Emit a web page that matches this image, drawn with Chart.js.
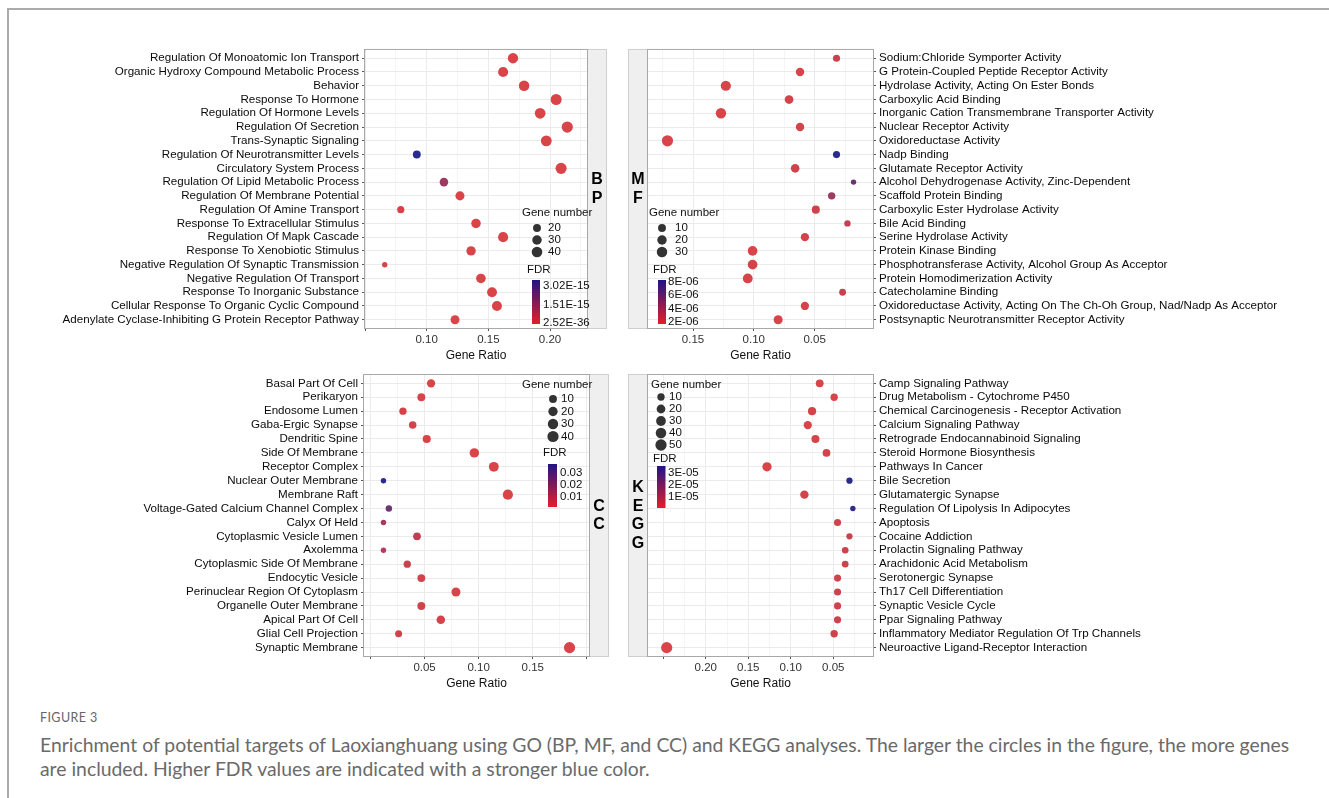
<!DOCTYPE html>
<html>
<head>
<meta charset="utf-8">
<script src="https://cdn.jsdelivr.net/npm/chart.js@4.4.1/dist/chart.umd.min.js"></script>
<style>
  html, body { margin: 0; padding: 0; background: #fff; }
  body { width: 1329px; height: 798px; position: relative; overflow: hidden; }
  .frame { position: absolute; left: 7px; top: 8px; width: 1400px; height: 900px;
           border-top: 2px solid #ababab; border-left: 2px solid #ababab; }
  canvas { position: absolute; }
  .fig { position: absolute; left: 40px; top: 710px; font: 12.5px Lato, sans-serif; color: #666; letter-spacing: 0.4px; }
  .cap { position: absolute; left: 40px; top: 733px; font-family: Lato, sans-serif; font-size: 17px;
         line-height: 24px; color: #6a6a6a; white-space: nowrap; }
</style>
</head>
<body>
<div class="frame"></div>
<canvas id="bp" width="620" height="325" style="left:0;top:40px"></canvas>
<canvas id="mf" width="709" height="325" style="left:620px;top:40px"></canvas>
<canvas id="cc" width="620" height="335" style="left:0;top:365px"></canvas>
<canvas id="kegg" width="709" height="335" style="left:620px;top:365px"></canvas>
<div class="fig">FIGURE 3</div>
<div class="cap" id="cap"><span id="capLine">Enrichment of potential targets of Laoxianghuang using GO (BP, MF, and CC) and KEGG analyses. The larger the circles in the figure, the more genes</span><br>are included. Higher FDR values are indicated with a stronger blue color.</div>
<script>
// ---- BP ----
const bpTerms = ['Regulation Of Monoatomic Ion Transport', 'Organic Hydroxy Compound Metabolic Process', 'Behavior',
  'Response To Hormone', 'Regulation Of Hormone Levels', 'Regulation Of Secretion', 'Trans-Synaptic Signaling',
  'Regulation Of Neurotransmitter Levels', 'Circulatory System Process', 'Regulation Of Lipid Metabolic Process',
  'Regulation Of Membrane Potential', 'Regulation Of Amine Transport', 'Response To Extracellular Stimulus',
  'Regulation Of Mapk Cascade', 'Response To Xenobiotic Stimulus', 'Negative Regulation Of Synaptic Transmission',
  'Negative Regulation Of Transport', 'Response To Inorganic Substance', 'Cellular Response To Organic Cyclic Compound',
  'Adenylate Cyclase-Inhibiting G Protein Receptor Pathway'];
const bpRatio = [0.170, 0.162, 0.179, 0.205, 0.192, 0.214, 0.197, 0.092, 0.209, 0.114,
  0.127, 0.079, 0.140, 0.162, 0.136, 0.066, 0.144, 0.153, 0.157, 0.123];
const bpCount = [37, 35, 39, 44, 41, 46, 42, 20, 45, 24, 27, 17, 30, 35, 29, 14, 31, 33, 34, 26];
const bpFdr = [4.1e-30, 2.2e-26, 8.5e-29, 3.0e-33, 1.7e-31, 2.52e-36, 6.4e-33, 3.42e-15, 1.1e-34, 1.2e-15,
  5.3e-21, 9.8e-17, 3.6e-22, 7.7e-25, 2.9e-22, 4.4e-18, 1.5e-23, 6.0e-26, 2.3e-24, 3.1e-19];
const bpTicks = [0.05, 0.10, 0.15, 0.20];
const bpTickLabels = ['', '0.10', '0.15', '0.20'];
const bpSizeBreaks = [20, 30, 40];
const bpFdrBreaks = [3.02e-15, 1.51e-15, 2.52e-36];
const bpFdrLabels = ['3.02E-15', '1.51E-15', '2.52E-36'];

// ---- MF ----
const mfTerms = ['Sodium:Chloride Symporter Activity', 'G Protein-Coupled Peptide Receptor Activity',
  'Hydrolase Activity, Acting On Ester Bonds', 'Carboxylic Acid Binding',
  'Inorganic Cation Transmembrane Transporter Activity', 'Nuclear Receptor Activity', 'Oxidoreductase Activity',
  'Nadp Binding', 'Glutamate Receptor Activity', 'Alcohol Dehydrogenase Activity, Zinc-Dependent',
  'Scaffold Protein Binding', 'Carboxylic Ester Hydrolase Activity', 'Bile Acid Binding', 'Serine Hydrolase Activity',
  'Protein Kinase Binding', 'Phosphotransferase Activity, Alcohol Group As Acceptor',
  'Protein Homodimerization Activity', 'Catecholamine Binding',
  'Oxidoreductase Activity, Acting On The Ch-Oh Group, Nad/Nadp As Acceptor',
  'Postsynaptic Neurotransmitter Receptor Activity'];
const mfRatio = [0.032, 0.062, 0.123, 0.071, 0.127, 0.062, 0.171, 0.032, 0.066, 0.018,
  0.036, 0.049, 0.023, 0.058, 0.101, 0.101, 0.105, 0.027, 0.058, 0.080];
const mfCount = [7, 13, 27, 15, 28, 13, 37, 7, 14, 4, 8, 11, 5, 12, 22, 22, 23, 6, 12, 17];
const mfFdr = [2.4e-6, 1.9e-6, 1.85e-6, 2.0e-6, 1.9e-6, 2.1e-6, 1.9e-6, 8.1e-6, 2.2e-6, 5.9e-6,
  4.0e-6, 2.3e-6, 2.6e-6, 2.0e-6, 1.9e-6, 2.0e-6, 1.95e-6, 2.5e-6, 2.1e-6, 1.9e-6];
const mfTicks = [0.05, 0.10, 0.15];
const mfTickLabels = ['0.05', '0.10', '0.15'];
const mfSizeBreaks = [10, 20, 30];
const mfFdrBreaks = [8e-6, 6e-6, 4e-6, 2e-6];
const mfFdrLabels = ['8E-06', '6E-06', '4E-06', '2E-06'];

// ---- CC ----
const ccTerms = ['Basal Part Of Cell', 'Perikaryon', 'Endosome Lumen', 'Gaba-Ergic Synapse', 'Dendritic Spine',
  'Side Of Membrane', 'Receptor Complex', 'Nuclear Outer Membrane', 'Membrane Raft',
  'Voltage-Gated Calcium Channel Complex', 'Calyx Of Held', 'Cytoplasmic Vesicle Lumen', 'Axolemma',
  'Cytoplasmic Side Of Membrane', 'Endocytic Vesicle', 'Perinuclear Region Of Cytoplasm',
  'Organelle Outer Membrane', 'Apical Part Of Cell', 'Glial Cell Projection', 'Synaptic Membrane'];
const ccRatio = [0.056, 0.047, 0.030, 0.039, 0.052, 0.096, 0.114, 0.012, 0.127, 0.017,
  0.012, 0.043, 0.012, 0.034, 0.047, 0.079, 0.047, 0.065, 0.026, 0.184];
const ccCount = [12, 10, 7, 8, 11, 21, 25, 3, 28, 4, 3, 9, 3, 7, 10, 17, 10, 14, 6, 40];
const ccFdr = [0.0035, 0.0036, 0.0040, 0.0042, 0.0038, 0.0034, 0.0033, 0.0355, 0.0033, 0.0230,
  0.0135, 0.0085, 0.0105, 0.0060, 0.0045, 0.0036, 0.0047, 0.0040, 0.0050, 0.0033];
const ccTicks = [0.00, 0.05, 0.10, 0.15, 0.20];
const ccTickLabels = ['', '0.05', '0.10', '0.15', ''];
const ccSizeBreaks = [10, 20, 30, 40];
const ccFdrBreaks = [0.03, 0.02, 0.01];
const ccFdrLabels = ['0.03', '0.02', '0.01'];

// ---- KEGG ----
const keggTerms = ['Camp Signaling Pathway', 'Drug Metabolism - Cytochrome P450',
  'Chemical Carcinogenesis - Receptor Activation', 'Calcium Signaling Pathway',
  'Retrograde Endocannabinoid Signaling', 'Steroid Hormone Biosynthesis', 'Pathways In Cancer', 'Bile Secretion',
  'Glutamatergic Synapse', 'Regulation Of Lipolysis In Adipocytes', 'Apoptosis', 'Cocaine Addiction',
  'Prolactin Signaling Pathway', 'Arachidonic Acid Metabolism', 'Serotonergic Synapse', 'Th17 Cell Differentiation',
  'Synaptic Vesicle Cycle', 'Ppar Signaling Pathway', 'Inflammatory Mediator Regulation Of Trp Channels',
  'Neuroactive Ligand-Receptor Interaction'];
const keggRatio = [0.066, 0.049, 0.075, 0.080, 0.071, 0.058, 0.128, 0.031, 0.084, 0.027,
  0.045, 0.031, 0.036, 0.036, 0.045, 0.045, 0.045, 0.045, 0.049, 0.246];
const keggCount = [13, 10, 15, 16, 14, 12, 25, 6, 17, 5, 9, 6, 7, 7, 9, 9, 9, 9, 10, 49];
const keggFdr = [2.6e-6, 2.4e-6, 3.1e-6, 2.3e-6, 2.8e-6, 3.5e-6, 2.2e-6, 3.43e-5, 2.9e-6, 3.35e-5,
  4.0e-6, 5.1e-6, 4.6e-6, 4.2e-6, 3.8e-6, 4.4e-6, 4.1e-6, 4.3e-6, 3.6e-6, 2.2e-6];
const keggTicks = [0.05, 0.10, 0.15, 0.20, 0.25];
const keggTickLabels = ['0.05', '0.10', '0.15', '0.20', ''];
const keggSizeBreaks = [10, 20, 30, 40, 50];
const keggFdrBreaks = [3e-5, 2e-5, 1e-5];
const keggFdrLabels = ['3E-05', '2E-05', '1E-05'];

const FONT = "'Liberation Sans', Arial, sans-serif";
Chart.defaults.font.family = FONT;

const rMin = 2.7, rMax = 5.6;
const dotLow = [217, 68, 72], dotHigh = [43, 43, 143];
const barLow = [228, 30, 42], barHigh = [32, 20, 132];

function mix(a, b, t) {
    t = Math.max(0, Math.min(1, t));
    return 'rgb(' + a.map((v, i) => Math.round(v + (b[i] - v) * t)).join(',') + ')';
}

function sizeOf(c, counts) {
    const lo = Math.min(...counts), hi = Math.max(...counts);
    return rMin + (rMax - rMin) * Math.sqrt(Math.max(0, (c - lo) / (hi - lo)));
}

function fdrT(v, fdr) {
    const lo = Math.min(...fdr), hi = Math.max(...fdr);
    return (v - lo) / (hi - lo);
}

function near(list, v) {
    return list.findIndex(t => Math.abs(t - v) < 1e-9);
}

function makeDecor(cfg) {
    return {
        id: 'decor',
        afterDraw(chart) {
            const ctx = chart.ctx, a = chart.chartArea;
            const ox = cfg.ox, oy = cfg.oy;
            ctx.save();
            // strip
            const sw = 20;
            const sx = cfg.side === 'left' ? a.right : a.left - sw;
            ctx.fillStyle = '#efefef';
            ctx.fillRect(sx, a.top, sw, a.bottom - a.top);
            ctx.strokeStyle = '#cfcfcf';
            ctx.lineWidth = 1;
            ctx.strokeRect(sx + 0.5, a.top - 0.5, sw - 1, a.bottom - a.top + 1);
            ctx.fillStyle = '#000';
            ctx.font = 'bold 16px ' + FONT;
            ctx.textAlign = 'center';
            ctx.textBaseline = 'middle';
            const letters = cfg.strip.split('');
            const mid = (a.top + a.bottom) / 2;
            letters.forEach((ch, i) => {
                ctx.fillText(ch, sx + sw / 2, mid + (i - (letters.length - 1) / 2) * 18.5);
            });
            // panel border
            ctx.strokeStyle = '#a8a8a8';
            ctx.strokeRect(a.left - 0.5, a.top - 0.5, a.right - a.left + 1, a.bottom - a.top + 1);

            // gene number legend
            const g = cfg.gene;
            ctx.font = '11.5px ' + FONT;
            ctx.textAlign = 'left';
            ctx.fillStyle = '#111';
            ctx.fillText('Gene number', g.tx - ox, g.ty - oy);
            g.vals.forEach((v, i) => {
                ctx.beginPath();
                ctx.fillStyle = '#333';
                ctx.arc(g.dx - ox, g.ys[i] - oy, sizeOf(v, cfg.count), 0, Math.PI * 2);
                ctx.fill();
                ctx.fillStyle = '#111';
                ctx.fillText(String(v), g.lx - ox, g.ys[i] - oy);
            });

            // FDR colour bar
            const f = cfg.fdrLeg;
            ctx.fillText('FDR', f.tx - ox, f.ty - oy);
            const bx = f.bx - ox, by = f.by - oy;
            const grad = ctx.createLinearGradient(0, by + f.bh, 0, by);
            for (let k = 0; k <= 10; k++) grad.addColorStop(k / 10, mix(barLow, barHigh, k / 10));
            ctx.fillStyle = grad;
            ctx.fillRect(bx, by, f.bw, f.bh);
            ctx.fillStyle = '#111';
            cfg.fdrBreaks.forEach((v, i) => {
                const t = Math.max(0, Math.min(1, fdrT(v, cfg.fdr)));
                ctx.fillText(cfg.fdrLabels[i], f.lx - ox, by + f.bh - 1.5 - (f.bh - 3) * t);
            });
            ctx.restore();
        }
    };
}

function panel(id, cfg) {
    const n = cfg.terms.length;
    const minor = [];
    for (let k = 0; k < cfg.ticks.length; k++) {
        minor.push(cfg.ticks[k] - 0.025);
    }
    minor.push(cfg.ticks[cfg.ticks.length - 1] + 0.025);
    const allTicks = cfg.ticks.concat(minor)
        .filter(v => v >= cfg.xMin - 1e-9 && v <= cfg.xMax + 1e-9)
        .sort((p, q) => p - q);

    new Chart(document.getElementById(id), {
        type: 'scatter',
        data: {
            datasets: [{
                data: cfg.ratio.map((x, i) => ({x: x, y: i})),
                pointRadius: c => sizeOf(cfg.count[c.dataIndex], cfg.count),
                pointHoverRadius: c => sizeOf(cfg.count[c.dataIndex], cfg.count),
                pointBackgroundColor: c => mix(dotLow, dotHigh, fdrT(cfg.fdr[c.dataIndex], cfg.fdr)),
                pointBorderWidth: 0,
                clip: false
            }]
        },
        options: {
            responsive: false,
            animation: false,
            devicePixelRatio: 1,
            layout: {padding: cfg.pad},
            plugins: {legend: {display: false}, tooltip: {enabled: false}},
            scales: {
                x: {
                    type: 'linear',
                    min: cfg.xMin,
                    max: cfg.xMax,
                    reverse: cfg.reverse,
                    afterBuildTicks: s => { s.ticks = allTicks.map(v => ({value: v})); },
                    afterFit: s => { s.height = cfg.xH; },
                    ticks: {
                        autoSkip: false,
                        maxRotation: 0,
                        padding: 2,
                        color: '#333',
                        font: {size: 11.5},
                        callback: v => {
                            const i = near(cfg.ticks, v);
                            return i < 0 ? '' : cfg.tickLabels[i];
                        }
                    },
                    grid: {
                        color: c => near(cfg.ticks, c.tick.value) < 0 ? '#f5f5f5' : '#ebebeb',
                        tickColor: c => near(cfg.ticks, c.tick.value) < 0 ? 'rgba(0,0,0,0)' : '#555',
                        tickLength: 3
                    },
                    border: {display: false},
                    title: {
                        display: true,
                        text: 'Gene Ratio',
                        color: '#111',
                        font: {size: 12},
                        padding: {top: 0, bottom: cfg.titlePad}
                    }
                },
                y: {
                    type: 'linear',
                    position: cfg.side,
                    min: -0.6,
                    max: n - 1 + 0.6,
                    reverse: true,
                    afterBuildTicks: s => { s.ticks = cfg.terms.map((t, i) => ({value: i})); },
                    afterFit: s => { s.width = cfg.yW; },
                    ticks: {
                        autoSkip: false,
                        padding: 3,
                        color: '#0a0a0a',
                        font: {size: 11.6},
                        callback: v => cfg.terms[v]
                    },
                    grid: {color: '#ebebeb', tickColor: '#555', tickLength: 3},
                    border: {display: false}
                }
            }
        },
        plugins: [makeDecor(cfg)]
    });
}

panel('bp', {
    terms: bpTerms, ratio: bpRatio, count: bpCount, fdr: bpFdr,
    ticks: bpTicks, tickLabels: bpTickLabels, xMin: 0.05, xMax: 0.230, reverse: false,
    side: 'left', yW: 365, xH: 37, titlePad: 2, pad: {top: 9, right: 33, left: 0, bottom: 0},
    ox: 0, oy: 40, strip: 'BP',
    gene: {tx: 522, ty: 213, dx: 537, lx: 548, ys: [228, 240, 252], vals: bpSizeBreaks},
    fdrLeg: {tx: 527, ty: 270, bx: 532, by: 280, bw: 8, bh: 44, lx: 543},
    fdrBreaks: bpFdrBreaks, fdrLabels: bpFdrLabels
});

panel('mf', {
    terms: mfTerms, ratio: mfRatio, count: mfCount, fdr: mfFdr,
    ticks: mfTicks, tickLabels: mfTickLabels, xMin: 0.002, xMax: 0.187, reverse: true,
    side: 'right', yW: 456, xH: 37, titlePad: 2, pad: {top: 9, right: 0, left: 28, bottom: 0},
    ox: 620, oy: 40, strip: 'MF',
    gene: {tx: 649, ty: 213, dx: 662, lx: 675, ys: [228, 240, 252], vals: mfSizeBreaks},
    fdrLeg: {tx: 653, ty: 270, bx: 658, by: 280, bw: 8, bh: 44, lx: 668},
    fdrBreaks: mfFdrBreaks, fdrLabels: mfFdrLabels
});

panel('cc', {
    terms: ccTerms, ratio: ccRatio, count: ccCount, fdr: ccFdr,
    ticks: ccTicks, tickLabels: ccTickLabels, xMin: -0.006, xMax: 0.202, reverse: false,
    side: 'left', yW: 364, xH: 44, titlePad: 9, pad: {top: 10, right: 31, left: 0, bottom: 0},
    ox: 0, oy: 365, strip: 'CC',
    gene: {tx: 522, ty: 385, dx: 553, lx: 561, ys: [399, 411.5, 424, 436.5], vals: ccSizeBreaks},
    fdrLeg: {tx: 543, ty: 453, bx: 548, by: 464, bw: 9, bh: 43, lx: 560},
    fdrBreaks: ccFdrBreaks, fdrLabels: ccFdrLabels
});

panel('kegg', {
    terms: keggTerms, ratio: keggRatio, count: keggCount, fdr: keggFdr,
    ticks: keggTicks, tickLabels: keggTickLabels, xMin: 0.0033, xMax: 0.268, reverse: true,
    side: 'right', yW: 456, xH: 44, titlePad: 9, pad: {top: 10, right: 0, left: 28, bottom: 0},
    ox: 620, oy: 365, strip: 'KEGG',
    gene: {tx: 651, ty: 385, dx: 661, lx: 669, ys: [397, 409, 421, 433, 445], vals: keggSizeBreaks},
    fdrLeg: {tx: 653, ty: 459, bx: 657, by: 466, bw: 8.5, bh: 42, lx: 668},
    fdrBreaks: keggFdrBreaks, fdrLabels: keggFdrLabels
});

// fit the first caption line to the width it takes in the figure
const capLine = document.getElementById('capLine');
const capW = capLine.getBoundingClientRect().width;
document.getElementById('cap').style.fontSize = (17 * 1250 / capW) + 'px';
</script>
</body>
</html>
